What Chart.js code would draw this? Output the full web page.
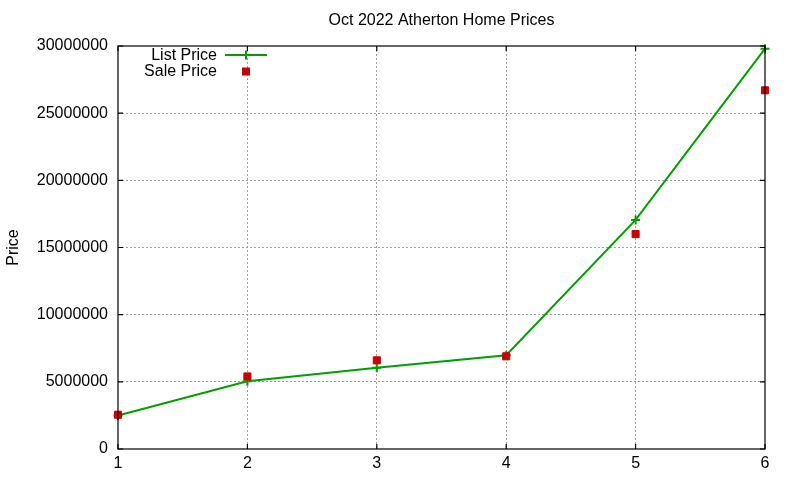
<!DOCTYPE html>
<html>
<head>
<meta charset="utf-8">
<script src="https://cdn.jsdelivr.net/npm/chart.js@4/dist/chart.umd.min.js"></script>
<style>
html,body{margin:0;padding:0;background:#fff;}
#wrap{width:800px;height:480px;}
</style>
</head>
<body>
<div id="wrap"><canvas id="c" width="800" height="480"></canvas></div>
<script>
const chartTitle = 'Oct 2022 Atherton Home Prices';
const yAxisTitle = 'Price';
const categories = [1, 2, 3, 4, 5, 6];
const listPrice = [2500000, 5050000, 6050000, 6980000, 17050000, 29800000];
const salePrice = [2550000, 5400000, 6600000, 6900000, 16000000, 26700000];
const seriesNames = ['List Price', 'Sale Price'];
const yTicks = [0, 5000000, 10000000, 15000000, 20000000, 25000000, 30000000];

const FONT = 'Liberation Sans, Arial, sans-serif';
const GREEN = '#00a000';
const RED = '#cc0000';

const framePlugin = {
  id: 'frame',
  afterDraw(chart) {
    const ctx = chart.ctx;
    const a = chart.chartArea;
    const xs = chart.scales.x, ys = chart.scales.y;
    ctx.save();
    ctx.strokeStyle = '#000';
    ctx.lineWidth = 1.2;
    ctx.strokeRect(a.left, a.top, a.right - a.left, a.bottom - a.top);
    const tl = 5;
    ctx.beginPath();
    xs.ticks.forEach(t => {
      const px = xs.getPixelForValue(t.value);
      ctx.moveTo(px, a.bottom); ctx.lineTo(px, a.bottom - tl);
      ctx.moveTo(px, a.top); ctx.lineTo(px, a.top + tl);
    });
    ys.ticks.forEach(t => {
      const py = ys.getPixelForValue(t.value);
      ctx.moveTo(a.left, py); ctx.lineTo(a.left + tl, py);
      ctx.moveTo(a.right, py); ctx.lineTo(a.right - tl, py);
    });
    ctx.stroke();
    // title
    ctx.fillStyle = '#000';
    ctx.font = '16px ' + FONT;
    ctx.textAlign = 'center';
    ctx.textBaseline = 'middle';
    ctx.fillText(chartTitle, (a.left + a.right) / 2, 20.5);
    // legend
    ctx.textAlign = 'right';
    ctx.fillText(seriesNames[0], 217, 55.5);
    ctx.fillText(seriesNames[1], 217, 71.5);
    ctx.strokeStyle = GREEN;
    ctx.lineWidth = 2;
    ctx.beginPath();
    ctx.moveTo(225, 55); ctx.lineTo(267, 55);
    ctx.moveTo(246, 50.5); ctx.lineTo(246, 59.5);
    ctx.stroke();
    ctx.fillStyle = RED;
    ctx.fillRect(242, 67.5, 8, 8);
    ctx.restore();
  }
};

const gridColor = (ctx) => {
  const scale = ctx.scale;
  if (!ctx.tick) return 'rgba(0,0,0,0)';
  const v = ctx.tick.value;
  return (v === scale.min || v === scale.max) ? 'rgba(0,0,0,0)' : '#a0a0a0';
};

new Chart(document.getElementById('c'), {
  type: 'line',
  data: {
    datasets: [
      {
        label: seriesNames[0],
        data: categories.map((c, i) => ({x: c, y: listPrice[i]})),
        borderColor: GREEN,
        backgroundColor: GREEN,
        borderWidth: 2,
        pointStyle: 'cross',
        pointRadius: 4.5,
        pointBorderWidth: 2,
        pointBorderColor: GREEN,
        tension: 0,
        clip: false,
        order: 2
      },
      {
        label: seriesNames[1],
        data: categories.map((c, i) => ({x: c, y: salePrice[i]})),
        showLine: false,
        borderColor: RED,
        backgroundColor: RED,
        pointStyle: 'rect',
        pointRadius: 5,
        pointBorderWidth: 1,
        pointBorderColor: RED,
        pointBackgroundColor: RED,
        clip: false,
        order: 1
      }
    ]
  },
  options: {
    responsive: false,
    animation: false,
    events: [],
    layout: { padding: { left: 0, right: 35, top: 46, bottom: 0 } },
    plugins: {
      legend: { display: false },
      title: { display: false },
      tooltip: { enabled: false }
    },
    scales: {
      x: {
        type: 'linear',
        min: 1, max: 6,
        afterBuildTicks: (s) => { s.ticks = categories.map(v => ({value: v})); },
        afterFit: (s) => { s.height = 31; },
        ticks: { color: '#000', font: { size: 16, family: FONT }, padding: 5, callback: v => String(v) },
        grid: { drawTicks: false, color: gridColor, lineWidth: 1 },
        border: { display: false, dash: [2, 2] }
      },
      y: {
        type: 'linear',
        min: 0, max: 30000000,
        afterBuildTicks: (s) => { s.ticks = yTicks.map(v => ({value: v})); },
        afterFit: (s) => { s.width = 118; },
        ticks: { color: '#000', font: { size: 16, family: FONT }, padding: 10, callback: v => String(v) },
        grid: { drawTicks: false, color: gridColor, lineWidth: 1 },
        border: { display: false, dash: [2, 2] },
        title: { display: true, text: yAxisTitle, color: '#000', font: { size: 16, family: FONT }, padding: { top: 4, bottom: 2 } }
      }
    }
  },
  plugins: [framePlugin]
});
</script>
</body>
</html>
